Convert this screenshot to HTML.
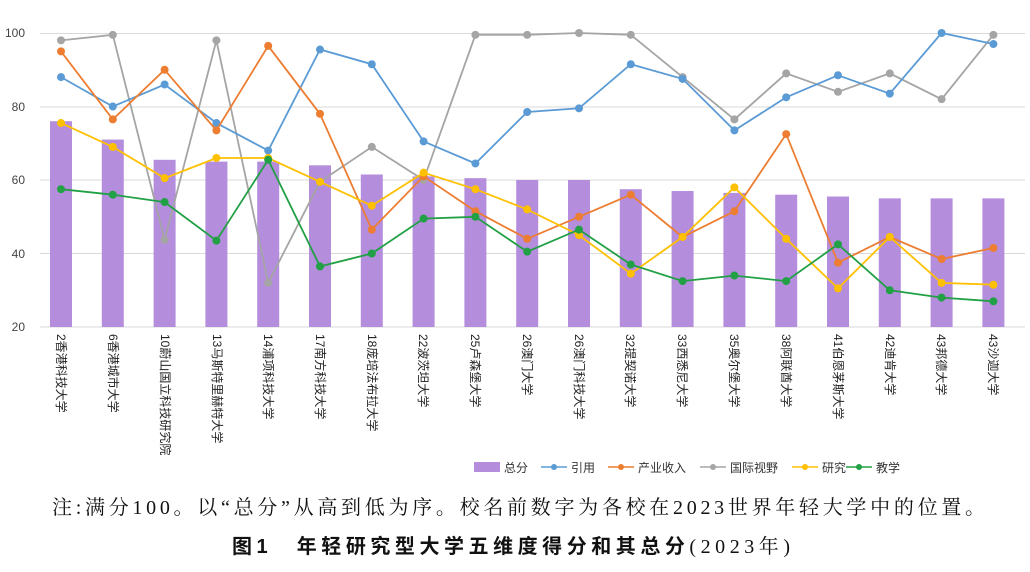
<!DOCTYPE html>
<html><head><meta charset="utf-8">
<style>
body{margin:0;background:#fff;width:1030px;height:567px;overflow:hidden;font-family:"Liberation Sans","Noto Sans CJK SC",sans-serif;}
svg text{font-family:"Liberation Sans","Noto Sans CJK SC",sans-serif;}
</style></head><body>
<svg id="s" width="1030" height="567" xmlns="http://www.w3.org/2000/svg">
<g stroke="#d9d9d9" stroke-width="1">
<line x1="40" x2="1025" y1="33.5" y2="33.5"/><line x1="40" x2="1025" y1="107" y2="107"/>
<line x1="40" x2="1025" y1="180" y2="180"/><line x1="40" x2="1025" y1="253.5" y2="253.5"/>
<line x1="40" x2="1025" y1="327" y2="327"/></g>
<g font-size="12" fill="#444" text-anchor="end">
<text x="25" y="37">100</text><text x="25" y="111">80</text><text x="25" y="184">60</text><text x="25" y="258">40</text><text x="25" y="331">20</text></g>
<g id="bars" fill="#b48ddd"></g>
<g id="lines"></g>
<g id="xl" font-size="12" fill="#222">
<text transform="translate(57,334) rotate(90)">2香港科技大学</text>
<text transform="translate(109,334) rotate(90)">6香港城市大学</text>
<text transform="translate(161,334) rotate(90)">10蔚山国立科技研究院</text>
<text transform="translate(213,334) rotate(90)">13马斯特里赫特大学</text>
<text transform="translate(264,334) rotate(90)">14浦项科技大学</text>
<text transform="translate(316,334) rotate(90)">17南方科技大学</text>
<text transform="translate(368,334) rotate(90)">18庞培法布拉大学</text>
<text transform="translate(419,334) rotate(90)">22波茨坦大学</text>
<text transform="translate(471,334) rotate(90)">25卢森堡大学</text>
<text transform="translate(523,334) rotate(90)">26澳门大学</text>
<text transform="translate(575,334) rotate(90)">26澳门科技大学</text>
<text transform="translate(626,334) rotate(90)">32提契诺大学</text>
<text transform="translate(678,334) rotate(90)">33西悉尼大学</text>
<text transform="translate(730,334) rotate(90)">35奥尔堡大学</text>
<text transform="translate(782,334) rotate(90)">38阿联酋大学</text>
<text transform="translate(834,334) rotate(90)">41伯恩茅斯大学</text>
<text transform="translate(886,334) rotate(90)">42迪肯大学</text>
<text transform="translate(937,334) rotate(90)">43邦德大学</text>
<text transform="translate(989,334) rotate(90)">43沙迦大学</text>
</g>
<g font-size="12" fill="#333">
<rect x="474" y="462" width="26" height="10" fill="#b48ddd"/><text x="504" y="472">总分</text>
<line x1="541" x2="567" y1="467" y2="467" stroke="#5b9bd5" stroke-width="1.5"/><circle cx="554" cy="467" r="3" fill="#5b9bd5"/><text x="571" y="472">引用</text>
<line x1="608" x2="634" y1="467" y2="467" stroke="#ed7d31" stroke-width="1.5"/><circle cx="621" cy="467" r="3" fill="#ed7d31"/><text x="638" y="472">产业收入</text>
<line x1="700" x2="726" y1="467" y2="467" stroke="#a5a5a5" stroke-width="1.5"/><circle cx="713" cy="467" r="3" fill="#a5a5a5"/><text x="730" y="472">国际视野</text>
<line x1="792" x2="818" y1="467" y2="467" stroke="#ffc000" stroke-width="1.5"/><circle cx="805" cy="467" r="3" fill="#ffc000"/><text x="822" y="472">研究</text>
<line x1="846" x2="872" y1="467" y2="467" stroke="#22a045" stroke-width="1.5"/><circle cx="859" cy="467" r="3" fill="#22a045"/><text x="876" y="472">教学</text>
</g>
<text x="52" y="514" textLength="933" lengthAdjust="spacing" font-size="20" fill="#111" style="font-family:'Liberation Serif','Noto Serif CJK SC',serif">注:满分100。以“总分”从高到低为序。校名前数字为各校在2023世界年轻大学中的位置。</text>
<text x="232" y="553" textLength="558" lengthAdjust="spacing" font-size="20" fill="#111" style="font-family:'Liberation Serif','Noto Serif CJK SC',serif"><tspan font-weight="bold" style="font-family:'Liberation Sans','Noto Sans CJK SC',sans-serif">图1　年轻研究型大学五维度得分和其总分</tspan>(2023年)</text>
</svg>
<script>
var X=[],i;for(i=0;i<19;i++)X.push(61+i*51.8);
function Y(v){return 327-(v-20)*3.675;}
var bars=[76,71,65.5,65,65,64,61.5,61,60.5,60,60,57.5,57,56.5,56,55.5,55,55,55];
var h='';for(i=0;i<19;i++)h+='<rect x="'+(X[i]-11)+'" y="'+Y(bars[i])+'" width="22" height="'+(327-Y(bars[i]))+'"/>';
document.getElementById('bars').innerHTML=h;
var S=[
['#a5a5a5',[98,99.5,43.7,98,32,59.5,69,60,99.5,99.5,100,99.5,88,76.5,89,84,89,82,99.5]],
['#5b9bd5',[88,80,86,75.5,68,95.5,91.5,70.5,64.5,78.5,79.5,91.5,87.5,73.5,82.5,88.5,83.5,100,97]],
['#ed7d31',[95,76.5,90,73.5,96.5,78,46.5,61,51.5,44,50,56,44.5,51.5,72.5,37.5,44.5,38.5,41.5]],
['#ffc000',[75.5,69,60.5,66,66,59.5,53,62,57.5,52,45,34.5,44.5,58,44,30.5,44.5,32,31.5]],
['#22a045',[57.5,56,54,43.5,65.5,36.5,40,49.5,50,40.5,46.5,37,32.5,34,32.5,42.5,30,28,27]]];
var g='';S.forEach(function(s){var p=[];for(i=0;i<19;i++)p.push(X[i].toFixed(1)+','+Y(s[1][i]).toFixed(1));
g+='<polyline fill="none" stroke="'+s[0]+'" stroke-width="1.8" points="'+p.join(' ')+'"/>';
for(i=0;i<19;i++)g+='<circle cx="'+X[i]+'" cy="'+Y(s[1][i])+'" r="4" fill="'+s[0]+'"/>';});
document.getElementById('lines').innerHTML=g;
</script>
</body></html>
